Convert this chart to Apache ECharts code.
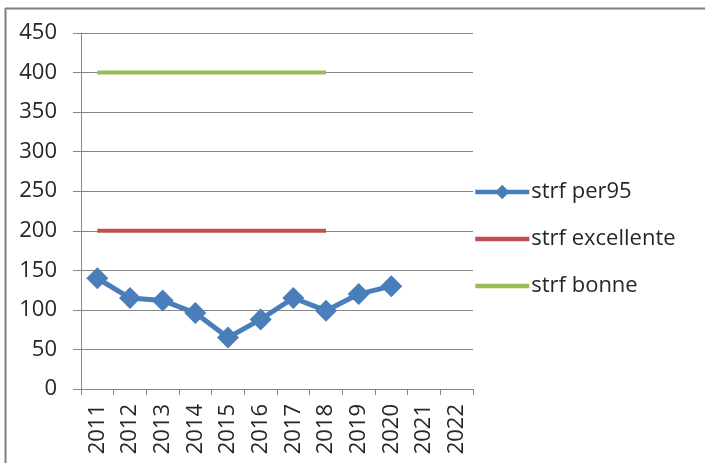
<!DOCTYPE html>
<html>
<head>
<meta charset="utf-8">
<script src="https://cdn.jsdelivr.net/npm/echarts@6/dist/echarts.min.js"></script>
<style>
html,body{margin:0;padding:0;background:#fff;}
#c{width:705px;height:463px;}
</style>
</head>
<body>
<div id="c"></div>
<script>
var categories = ['2011','2012','2013','2014','2015','2016','2017','2018','2019','2020','2021','2022'];
var per95 = [140, 115, 112, 96, 65, 88, 115, 99, 120, 130, null, null];
var excellente = [200, 200, 200, 200, 200, 200, 200, 200, null, null, null, null];
var bonne = [400, 400, 400, 400, 400, 400, 400, 400, null, null, null, null];
var yTicks = {min: 0, max: 450, interval: 50};

var chart = echarts.init(document.getElementById('c'));
var font = 'Open Sans';
chart.setOption({
  animation: false,
  backgroundColor: '#fff',
  graphic: [
    {type: 'line', shape: {x1: 5, y1: 8.5, x2: 705, y2: 8.5}, style: {stroke: '#7f7f7f', lineWidth: 2}},
    {type: 'line', shape: {x1: 5.5, y1: 8, x2: 5.5, y2: 463}, style: {stroke: '#7f7f7f', lineWidth: 2}}
  ],
  grid: {left: 81, right: 232, top: 33, bottom: 74, containLabel: false},
  legend: {
    orient: 'vertical',
    left: 473,
    top: 181,
    padding: 0,
    itemWidth: 54,
    itemHeight: 18,
    itemGap: 25,
    lineStyle: {width: 4.5},
    textStyle: {fontFamily: font, fontSize: 22, color: '#262626', lineHeight: 22, padding: [0,0,0,-3]},
    data: [
      {name: 'strf per95'},
      {name: 'strf excellente', itemStyle: {opacity: 0}},
      {name: 'strf bonne', itemStyle: {opacity: 0}}
    ]
  },
  xAxis: {
    type: 'category',
    data: categories,
    boundaryGap: true,
    axisLine: {lineStyle: {color: '#868686', width: 1}},
    axisTick: {show: true, length: 6, lineStyle: {color: '#868686'}},
    axisLabel: {rotate: 90, interval: 0, fontFamily: font, fontSize: 22, color: '#262626', margin: 15}
  },
  yAxis: {
    type: 'value',
    min: yTicks.min, max: yTicks.max, interval: yTicks.interval,
    axisLine: {show: true, lineStyle: {color: '#868686', width: 1}},
    axisTick: {show: true, length: 8, lineStyle: {color: '#868686'}},
    splitLine: {lineStyle: {color: '#868686', width: 1}},
    axisLabel: {fontFamily: font, fontSize: 22, color: '#262626', margin: 24}
  },
  series: [
    {
      name: 'strf per95', type: 'line', data: per95,
      symbol: 'diamond', symbolSize: 22, showSymbol: true,
      lineStyle: {color: '#4a7ebb', width: 5},
      itemStyle: {color: '#4a7ebb'},
      z: 5
    },
    {
      name: 'strf excellente', type: 'line', data: excellente,
      symbol: 'none',
      lineStyle: {color: '#c0504d', width: 4},
      itemStyle: {color: '#c0504d'}
    },
    {
      name: 'strf bonne', type: 'line', data: bonne,
      symbol: 'none',
      lineStyle: {color: '#9bbb59', width: 4},
      itemStyle: {color: '#9bbb59'}
    }
  ]
});
</script>
</body>
</html>
